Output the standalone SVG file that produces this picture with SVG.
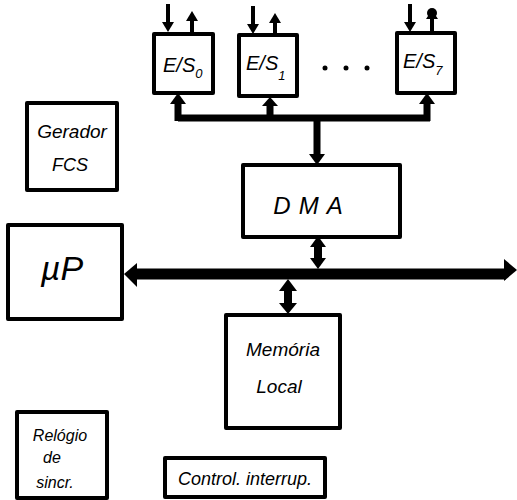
<svg xmlns="http://www.w3.org/2000/svg" width="517" height="500" viewBox="0 0 517 500">
<style>
.box{fill:#fff;stroke:#000;stroke-width:4;stroke-linejoin:round}
.t{font-family:"Liberation Sans","DejaVu Sans",sans-serif;font-style:italic;fill:#000}
.ln{stroke:#000;fill:none;stroke-linecap:butt}
.hd{fill:#000}
</style>
<rect width="517" height="500" fill="#fff"/>
<g id="connectors">
  <!-- E/S small bus -->
  <path class="ln" stroke-width="7" d="M178,118 H430 M178,121 V100 M270,121 V102 M427,121 V100 M317,115 V158"/>
  <polygon class="hd" points="170,104 178,93 186,104"/>
  <polygon class="hd" points="262,106 270,97 278,106"/>
  <polygon class="hd" points="419,104 427,93 435,104"/>
  <polygon class="hd" points="309,154 317,165 325,154"/>
  <!-- top I/O arrows -->
  <path class="ln" stroke-width="4" d="M168,4 V26 M192,33 V18 M253,6 V28 M275,35 V20 M410,4 V26 M432,32 V16"/>
  <polygon class="hd" points="162,22 168,32 174,22"/>
  <polygon class="hd" points="186,21 192,11 198,21"/>
  <polygon class="hd" points="247,24 253,34 259,24"/>
  <polygon class="hd" points="269,23 275,13 281,23"/>
  <polygon class="hd" points="404,22 410,32 416,22"/>
  <circle class="hd" cx="432" cy="13" r="5"/>
  <polygon class="hd" points="426,19 432,10 438,19"/>
  <!-- main bus -->
  <path class="ln" stroke-width="11" d="M134,274 H506"/>
  <polygon class="hd" points="137,263 124,274 137,287"/>
  <polygon class="hd" points="504,259 517,270 504,281"/>
  <!-- DMA to bus double arrow -->
  <path class="ln" stroke-width="8" d="M318,244 V262"/>
  <polygon class="hd" points="310,247 318,236 326,247"/>
  <polygon class="hd" points="310,258 318,269 326,258"/>
  <!-- bus to memory double arrow -->
  <path class="ln" stroke-width="8" d="M288,288 V306"/>
  <polygon class="hd" points="279,291 288,279 297,291"/>
  <polygon class="hd" points="279,303 288,314 297,303"/>
</g>
<g id="es0">
  <rect class="box" x="154" y="34" width="59" height="59"/>
  <text class="t" x="163" y="72" font-size="20">E/S<tspan font-size="13" dy="6">0</tspan></text>
</g>
<g id="es1">
  <rect class="box" x="239" y="35" width="58" height="61"/>
  <text class="t" x="246" y="70" font-size="20">E/S<tspan font-size="13" dy="10">1</tspan></text>
</g>
<g id="dots">
  <circle class="hd" cx="325" cy="68" r="2.5"/>
  <circle class="hd" cx="346" cy="68" r="2.5"/>
  <circle class="hd" cx="367" cy="68" r="2.5"/>
</g>
<g id="es7">
  <rect class="box" x="397" y="33" width="58" height="60"/>
  <text class="t" x="403" y="68" font-size="20">E/S<tspan font-size="13" dy="7">7</tspan></text>
</g>
<g id="gerador">
  <rect class="box" x="27" y="103" width="90" height="87"/>
  <text class="t" x="72" y="138" font-size="19" text-anchor="middle">Gerador</text>
  <text class="t" x="70" y="171" font-size="18" text-anchor="middle">FCS</text>
</g>
<g id="dma">
  <rect class="box" x="243" y="165" width="157" height="72"/>
  <text class="t" x="312" y="214" font-size="24" text-anchor="middle" letter-spacing="8">DMA</text>
</g>
<g id="up">
  <rect class="box" x="8" y="225" width="114" height="94"/>
  <text class="t" x="62" y="280" font-size="34" text-anchor="middle">µP</text>
</g>
<g id="memoria">
  <rect class="box" x="226" y="315" width="114" height="113"/>
  <text class="t" x="283" y="356" font-size="19" text-anchor="middle">Memória</text>
  <text class="t" x="279" y="393" font-size="19" text-anchor="middle">Local</text>
</g>
<g id="relogio">
  <rect class="box" x="17" y="412" width="90" height="86"/>
  <text class="t" x="60" y="441" font-size="16" text-anchor="middle">Relógio</text>
  <text class="t" x="52" y="463" font-size="16" text-anchor="middle">de</text>
  <text class="t" x="55" y="488" font-size="16" text-anchor="middle">sincr.</text>
</g>
<g id="control">
  <rect class="box" x="165" y="458" width="160" height="39"/>
  <text class="t" x="245" y="485" font-size="18" text-anchor="middle">Control. interrup.</text>
</g>
</svg>
